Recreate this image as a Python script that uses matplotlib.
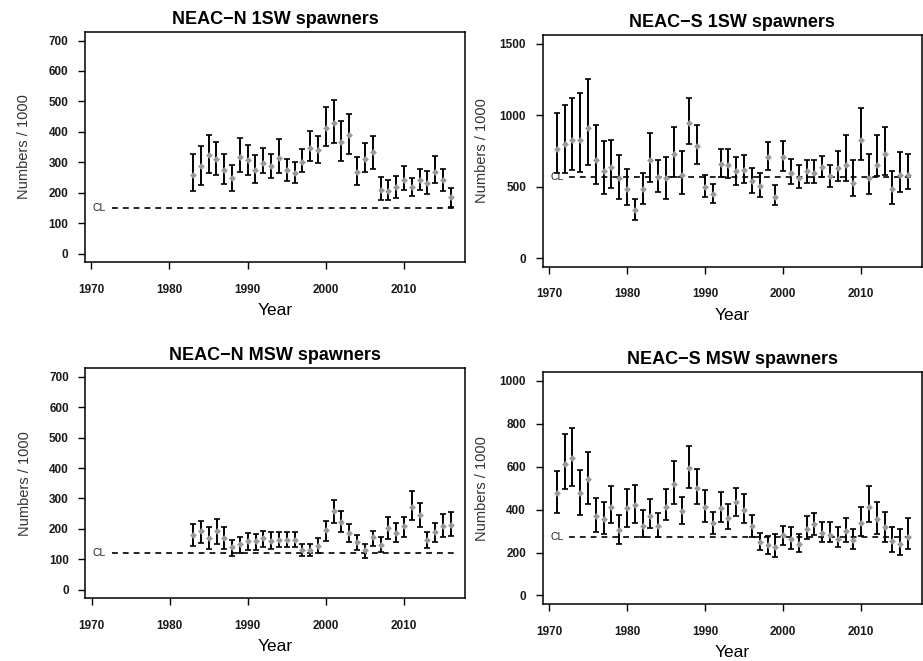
import numpy as np
import matplotlib.pyplot as plt

# NEAC-N 1SW spawners, 1983-2016
n1sw_years = list(range(1983, 2017))
n1sw_mid = [259, 286, 323, 312, 275, 248, 318, 308, 275, 299, 286, 313, 275, 264, 300, 348, 340,
            413, 429, 365, 391, 268, 311, 333, 210, 207, 217, 242, 218, 242, 232, 267, 242, 185]
n1sw_lo = [204, 226, 263, 258, 228, 204, 267, 259, 232, 263, 248, 264, 237, 232, 268, 305, 297,
           353, 362, 305, 326, 226, 268, 279, 177, 177, 183, 210, 188, 210, 195, 232, 204, 152]
n1sw_hi = [327, 353, 390, 368, 327, 290, 379, 358, 323, 348, 327, 375, 311, 300, 343, 401, 386,
           482, 503, 434, 460, 317, 364, 387, 253, 242, 254, 286, 248, 279, 270, 322, 279, 215]
n1sw_cl = 148

# NEAC-S 1SW spawners, 1971-2016
s1sw_years = list(range(1971, 2017))
s1sw_mid = [765, 800, 829, 829, 910, 684, 608, 638, 558, 484, 339, 484, 684, 569, 558, 730, 581,
            942, 786, 495, 449, 661, 650, 608, 618, 541, 505, 707, 426, 707, 597, 562, 608, 597,
            638, 574, 627, 650, 528, 829, 558, 650, 730, 484, 581, 581]
s1sw_lo = [592, 592, 615, 604, 650, 516, 447, 493, 412, 369, 270, 380, 535, 459, 412, 569, 447,
           795, 659, 424, 389, 569, 558, 514, 525, 456, 426, 615, 369, 608, 521, 493, 527, 523,
           569, 500, 539, 539, 435, 684, 445, 574, 581, 378, 459, 484]
s1sw_hi = [1012, 1069, 1122, 1157, 1256, 933, 818, 829, 719, 620, 412, 592, 878, 684, 707, 919,
           751, 1120, 929, 581, 516, 765, 765, 707, 719, 631, 592, 809, 514, 816, 694, 650, 684,
           684, 717, 648, 751, 864, 684, 1053, 730, 864, 917, 608, 742, 730]
s1sw_cl = 570

# NEAC-N MSW spawners, 1983-2016
nmsw_years = list(range(1983, 2017))
nmsw_mid = [180, 192, 170, 192, 169, 139, 150, 159, 159, 169, 161, 164, 164, 164, 132, 132, 143,
            197, 260, 224, 186, 156, 132, 172, 148, 202, 186, 208, 271, 246, 164, 189, 211, 214]
nmsw_lo = [143, 154, 134, 150, 134, 110, 121, 132, 132, 139, 134, 139, 139, 139, 110, 110, 121,
           161, 221, 189, 156, 130, 104, 145, 125, 167, 156, 172, 230, 205, 136, 158, 175, 178]
nmsw_hi = [216, 227, 205, 232, 205, 164, 172, 185, 183, 194, 189, 189, 189, 189, 152, 152, 169,
           227, 296, 258, 216, 180, 152, 194, 174, 238, 218, 240, 323, 285, 189, 221, 249, 254]
nmsw_cl = 121

# NEAC-S MSW spawners, 1971-2016
smsw_years = list(range(1971, 2017))
smsw_mid = [476, 615, 641, 476, 542, 371, 355, 414, 303, 406, 422, 326, 371, 326, 414, 519, 394,
            595, 503, 414, 337, 406, 363, 436, 398, 324, 247, 233, 225, 280, 263, 241, 310, 332,
            293, 280, 263, 301, 259, 340, 414, 355, 317, 256, 241, 272]
smsw_lo = [383, 496, 510, 375, 426, 298, 286, 337, 241, 321, 337, 272, 313, 272, 352, 426, 332,
           503, 426, 344, 286, 344, 309, 368, 337, 272, 210, 195, 179, 233, 218, 202, 263, 280,
           249, 249, 225, 249, 218, 278, 341, 286, 249, 202, 187, 218]
smsw_hi = [579, 751, 782, 587, 669, 453, 434, 510, 375, 494, 517, 398, 449, 383, 496, 625, 457,
           697, 591, 491, 391, 480, 426, 503, 473, 375, 290, 278, 286, 324, 318, 286, 368, 383,
           344, 344, 318, 363, 310, 414, 510, 434, 388, 317, 309, 363]
smsw_cl = 272

panels = [
    ("NEAC\u2212N 1SW spawners", n1sw_years, n1sw_mid, n1sw_lo, n1sw_hi, n1sw_cl, 700, np.arange(0, 701, 100)),
    ("NEAC\u2212S 1SW spawners", s1sw_years, s1sw_mid, s1sw_lo, s1sw_hi, s1sw_cl, 1500, np.arange(0, 1501, 500)),
    ("NEAC\u2212N MSW spawners", nmsw_years, nmsw_mid, nmsw_lo, nmsw_hi, nmsw_cl, 700, np.arange(0, 701, 100)),
    ("NEAC\u2212S MSW spawners", smsw_years, smsw_mid, smsw_lo, smsw_hi, smsw_cl, 1000, np.arange(0, 1001, 200)),
]

# axes boxes in figure fractions
boxes = [
    [0.0921, 0.6036, 0.4117, 0.348],
    [0.588, 0.5965, 0.411, 0.3505],
    [0.0926, 0.0949, 0.411, 0.348],
    [0.588, 0.0862, 0.411, 0.3505],
]

plt.rcParams['font.family'] = ['Liberation Sans', 'DejaVu Sans']

fig = plt.figure(figsize=(9.23, 6.61), dpi=100)

for (title, years, mid, lo, hi, cl, ymax, yticks), box in zip(panels, boxes):
    ax = fig.add_axes(box)
    years = np.array(years)
    mid = np.array(mid)
    err = [mid - np.array(lo), np.array(hi) - mid]

    # R style 4% padding around the data range
    ax.set_xlim(1971 - 0.04 * 45, 2016 + 0.04 * 45)
    ax.set_ylim(-0.04 * ymax, ymax * 1.04)

    ax.errorbar(years, mid, yerr=err, fmt='none', ecolor='black', elinewidth=1.4,
                capsize=2, capthick=1.2, zorder=2)
    ax.plot(years, mid, linestyle='none', marker='D', markersize=3.5, color='#9a9a9a',
            markeredgewidth=0, zorder=3)

    ax.plot([1972.6, 2016.4], [cl, cl], linestyle=(0, (3.5, 3)), color='black', linewidth=1.2, zorder=1)
    ax.text(1971, cl, "CL", fontsize=7.5, ha='center', va='center', color='#222222')

    ax.set_xticks([1970, 1980, 1990, 2000, 2010])
    ax.set_yticks(yticks)
    ax.tick_params(direction='out', length=5, width=1, labelsize=8.5, colors='black',
                   labelcolor='#1a1a1a')
    ax.tick_params(axis='x', pad=10.5)
    ax.tick_params(axis='y', pad=7)
    for lab in ax.get_xticklabels() + ax.get_yticklabels():
        lab.set_fontweight('bold')
    for s in ax.spines.values():
        s.set_linewidth(1.1)

    ax.set_title(title, fontsize=13, fontweight='bold', pad=6)
    ax.set_xlabel("Year", fontsize=12.5)
    ax.xaxis.label.set_va('center')
    ax.xaxis.set_label_coords(0.5, -48 / 230)
    ax.set_ylabel("Numbers / 1000", fontsize=10.5, color='#333333')
    ax.yaxis.label.set_va('center')
    ax.yaxis.set_label_coords(-61 / 380, 0.5)

fig.savefig("out.png", dpi=100)
